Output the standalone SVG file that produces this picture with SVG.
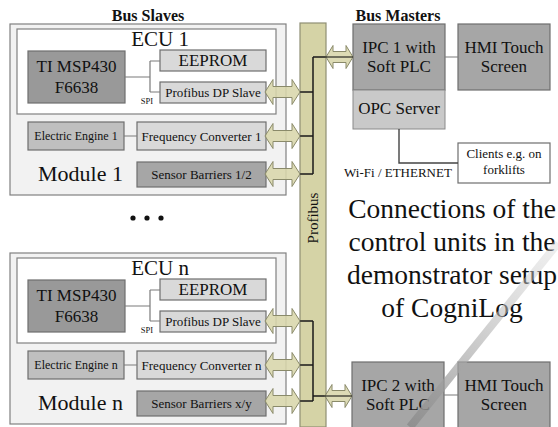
<svg xmlns="http://www.w3.org/2000/svg" xmlns:xlink="http://www.w3.org/1999/xlink" width="558" height="427" viewBox="0 0 558 427">
<style>
.mod{fill:#f2f2f2;stroke:#808080;stroke-width:1.2}
.ecu{fill:#fff;stroke:#808080;stroke-width:1.2}
.dark{fill:#999;stroke:#6e6e6e;stroke-width:1.2}
.mid{fill:#a6a6a6;stroke:#6e6e6e;stroke-width:1.2}
.eng{fill:#bfbfbf;stroke:#6e6e6e;stroke-width:1.2}
.lite{fill:#d9d9d9;stroke:#6e6e6e;stroke-width:1.2}
.opc{fill:#c9c9c9;stroke:#8a8a8a;stroke-width:1}
.cli{fill:#fff;stroke:#6e6e6e;stroke-width:1.2}
.gl{fill:none;stroke:#7a7a7a;stroke-width:1.2}
.bl{fill:none;stroke:#1a1a1a;stroke-width:1.5}
.arr{fill:#d8d6ab;fill-opacity:0.88;stroke:#8a8a6a;stroke-width:1}
</style>
<defs>
<path id="da" d="M0 0 L8 -12.5 L8 -5.5 L27 -5.5 L27 -12.5 L35 0 L27 12.5 L27 5.5 L8 5.5 L8 12.5 Z"/>
<path id="db" d="M0 0 L7 -11.5 L7 -5.5 L20 -5.5 L20 -11.5 L27 0 L20 11.5 L20 5.5 L7 5.5 L7 11.5 Z"/>
<linearGradient id="wm" gradientUnits="userSpaceOnUse" x1="558" y1="243" x2="410" y2="427">
<stop offset="0" stop-color="#d8d8d8" stop-opacity="0.4"/>
<stop offset="1" stop-color="#8c8c8c" stop-opacity="0.85"/>
</linearGradient>
</defs>

<text font-family="Liberation Serif" font-weight="bold" font-size="16" fill="#111" text-anchor="middle" x="148" y="21">Bus Slaves</text>
<text font-family="Liberation Serif" font-weight="bold" font-size="16" fill="#111" text-anchor="middle" x="398" y="21">Bus Masters</text>

<g id="module1">
<rect class="mod" x="10" y="24" width="276" height="171"/>
<rect class="ecu" x="17" y="29" width="259" height="85"/>
<text font-family="Liberation Serif" fill="#111" text-anchor="middle" x="160" y="46" font-size="21">ECU 1</text>
<g id="ti1"><rect class="dark" x="28" y="51" width="97" height="52"/><text font-family="Liberation Serif" fill="#111" text-anchor="middle" font-size="17" x="76.5" y="72">TI MSP430</text><text font-family="Liberation Serif" fill="#111" text-anchor="middle" font-size="17" x="76.5" y="93">F6638</text></g>
<g id="eeprom1"><rect class="lite" x="160" y="50" width="106" height="21"/><text font-family="Liberation Serif" fill="#111" text-anchor="middle" font-size="17" x="213" y="66">EEPROM</text></g>
<g id="pdp1"><rect class="lite" x="160" y="82" width="106" height="21"/><text font-family="Liberation Serif" fill="#111" text-anchor="middle" font-size="13" x="213" y="97">Profibus DP Slave</text></g>
<text font-family="Liberation Serif" fill="#111" text-anchor="middle" x="147" y="104" font-size="8.5">SPI</text>
<g id="ee1"><rect class="eng" x="28" y="122" width="96" height="28"/><text font-family="Liberation Serif" fill="#111" text-anchor="middle" font-size="12" x="76" y="140">Electric Engine 1</text></g>
<g id="fc1"><rect class="lite" x="137" y="122" width="129" height="28"/><text font-family="Liberation Serif" fill="#111" text-anchor="middle" font-size="13" x="201.5" y="140.5">Frequency Converter 1</text></g>
<g id="sb1"><rect class="mid" x="137" y="162" width="129" height="25"/><text font-family="Liberation Serif" fill="#111" text-anchor="middle" font-size="13" x="201.5" y="179">Sensor Barriers 1/2</text></g>
<text font-family="Liberation Serif" fill="#111" x="38" y="181" font-size="22">Module 1</text>
</g>

<g id="dots" fill="#111"><circle cx="133" cy="218" r="2.6"/><circle cx="147" cy="218" r="2.6"/><circle cx="161" cy="218" r="2.6"/></g>

<g id="modulen">
<rect class="mod" x="10" y="253" width="276" height="171"/>
<rect class="ecu" x="17" y="258" width="259" height="85"/>
<text font-family="Liberation Serif" fill="#111" text-anchor="middle" x="160" y="275" font-size="21">ECU n</text>
<g id="tin"><rect class="dark" x="28" y="280" width="97" height="52"/><text font-family="Liberation Serif" fill="#111" text-anchor="middle" font-size="17" x="76.5" y="301">TI MSP430</text><text font-family="Liberation Serif" fill="#111" text-anchor="middle" font-size="17" x="76.5" y="322">F6638</text></g>
<g id="eepromn"><rect class="lite" x="160" y="279" width="106" height="21"/><text font-family="Liberation Serif" fill="#111" text-anchor="middle" font-size="17" x="213" y="295">EEPROM</text></g>
<g id="pdpn"><rect class="lite" x="160" y="311" width="106" height="21"/><text font-family="Liberation Serif" fill="#111" text-anchor="middle" font-size="13" x="213" y="326">Profibus DP Slave</text></g>
<text font-family="Liberation Serif" fill="#111" text-anchor="middle" x="147" y="333" font-size="8.5">SPI</text>
<g id="een"><rect class="eng" x="28" y="351" width="96" height="28"/><text font-family="Liberation Serif" fill="#111" text-anchor="middle" font-size="12" x="76" y="369">Electric Engine n</text></g>
<g id="fcn"><rect class="lite" x="137" y="351" width="129" height="28"/><text font-family="Liberation Serif" fill="#111" text-anchor="middle" font-size="13" x="201.5" y="369.5">Frequency Converter n</text></g>
<g id="sbn"><rect class="mid" x="137" y="391" width="129" height="25"/><text font-family="Liberation Serif" fill="#111" text-anchor="middle" font-size="13" x="201.5" y="408">Sensor Barriers x/y</text></g>
<text font-family="Liberation Serif" fill="#111" x="38" y="410" font-size="22">Module n</text>
</g>

<g id="profibus">
<rect x="300" y="23" width="26" height="404" fill="#d5d3a6" stroke="#8f8f74" stroke-width="1.2"/>
<text font-family="Liberation Serif" fill="#111" text-anchor="middle" x="318" y="218" font-size="15" transform="rotate(-90 318 218)">Profibus</text>
</g>

<g id="ipc1"><rect class="mid" x="353" y="24" width="92" height="66"/><text font-family="Liberation Serif" fill="#111" text-anchor="middle" font-size="17" x="399" y="53">IPC 1 with</text><text font-family="Liberation Serif" fill="#111" text-anchor="middle" font-size="17" x="399" y="72">Soft PLC</text></g>
<g id="hmi1"><rect class="mid" x="458" y="24" width="92" height="66"/><text font-family="Liberation Serif" fill="#111" text-anchor="middle" font-size="17" x="504" y="53">HMI Touch</text><text font-family="Liberation Serif" fill="#111" text-anchor="middle" font-size="17" x="504" y="72">Screen</text></g>
<g id="opc"><rect class="opc" x="353" y="90" width="92" height="39"/><text font-family="Liberation Serif" fill="#111" text-anchor="middle" font-size="17" x="399" y="114">OPC Server</text></g>
<g id="clients"><rect class="cli" x="458" y="143" width="92" height="40"/><text font-family="Liberation Serif" fill="#111" text-anchor="middle" font-size="13" x="504" y="158">Clients e.g. on</text><text font-family="Liberation Serif" fill="#111" text-anchor="middle" font-size="13" x="504" y="174">forklifts</text></g>
<text font-family="Liberation Serif" fill="#111" text-anchor="middle" font-size="13" x="398" y="177">Wi-Fi / ETHERNET</text>
<g id="ipc2"><rect class="mid" x="352" y="362" width="92" height="66"/><text font-family="Liberation Serif" fill="#111" text-anchor="middle" font-size="17" x="398" y="391">IPC 2 with</text><text font-family="Liberation Serif" fill="#111" text-anchor="middle" font-size="17" x="398" y="410">Soft PLC</text></g>
<g id="hmi2"><rect class="mid" x="458" y="362" width="92" height="66"/><text font-family="Liberation Serif" fill="#111" text-anchor="middle" font-size="17" x="504" y="391">HMI Touch</text><text font-family="Liberation Serif" fill="#111" text-anchor="middle" font-size="17" x="504" y="410">Screen</text></g>

<g id="caption">
<text font-family="Liberation Serif" fill="#111" text-anchor="middle" font-size="27.5" x="452" y="218">Connections of the</text>
<text font-family="Liberation Serif" fill="#111" text-anchor="middle" font-size="27.5" x="452" y="251">control units in the</text>
<text font-family="Liberation Serif" fill="#111" text-anchor="middle" font-size="27.5" x="452" y="284">demonstrator setup</text>
<text font-family="Liberation Serif" fill="#111" text-anchor="middle" font-size="27.5" x="452" y="317">of CogniLog</text>
</g>

<g id="connectors">
<path class="gl" d="M125 77 H150 M150 61 V92 M150 61 H160 M150 92 H160"/>
<path class="gl" d="M125 306 H150 M150 290 V321 M150 290 H160 M150 321 H160"/>
<path class="gl" d="M124 136 H137 M124 365 H137"/>
<path class="gl" d="M445 57 H458 M444 395 H458"/>
<path fill="none" stroke="#444" stroke-width="1.4" d="M399 129 V163 H458"/>
<path class="bl" d="M313 57 V174 M300 92 H313 M300 136 H313 M300 174 H313 M313 57 H353"/>
<path class="bl" d="M313 321 V401 M300 321 H313 M300 365 H313 M300 401 H313 M313 396 H352"/>
<use href="#da" xlink:href="#da" class="arr" x="265" y="92"/>
<use href="#da" xlink:href="#da" class="arr" x="265" y="136"/>
<use href="#da" xlink:href="#da" class="arr" x="265" y="174"/>
<use href="#da" xlink:href="#da" class="arr" x="265" y="321"/>
<use href="#da" xlink:href="#da" class="arr" x="265" y="365"/>
<use href="#da" xlink:href="#da" class="arr" x="265" y="401"/>
<use href="#db" xlink:href="#db" class="arr" x="326" y="57"/>
<use href="#db" xlink:href="#db" class="arr" x="325" y="396"/>
<path fill="none" stroke="#1a1a1a" stroke-width="1.2" d="M326 57 H353 M325 396 H352"/>
</g>

<line x1="558" y1="243" x2="410" y2="427" stroke="url(#wm)" stroke-width="8"/>
</svg>
